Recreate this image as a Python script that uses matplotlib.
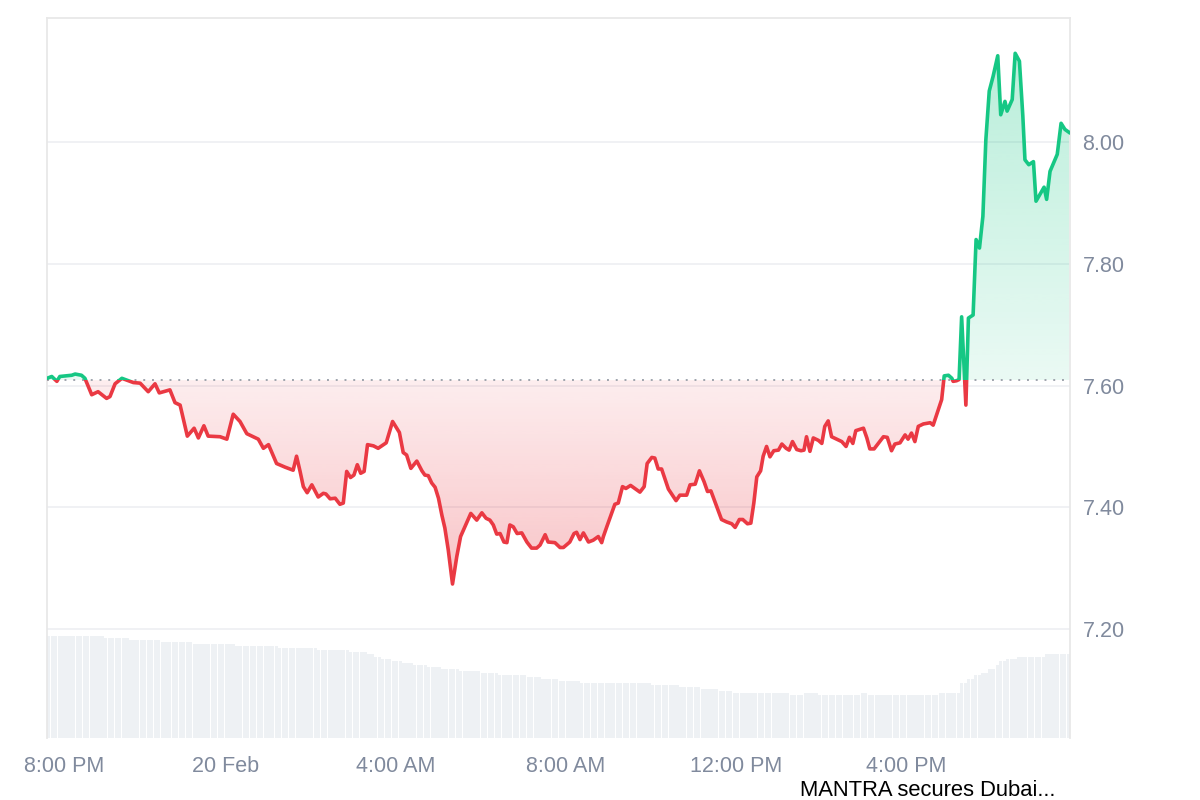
import numpy as np
import matplotlib.pyplot as plt
import matplotlib.colors as mcolors
from matplotlib.path import Path
from matplotlib.patches import Rectangle
from matplotlib.transforms import ScaledTranslation

plt.rcParams['font.family'] = ['Liberation Sans', 'DejaVu Sans']

# price, hours relative to midnight (20 Feb)
hours = [
    -4.21, -4.10, -3.98, -3.91, -3.63, -3.55, -3.40, -3.32, -3.16, -3.01,
    -2.81, -2.73, -2.61, -2.45, -2.18, -2.02, -1.83, -1.67, -1.57, -1.32,
    -1.20, -1.08, -0.91, -0.75, -0.65, -0.52, -0.42, -0.14, 0.02, 0.17,
    0.33, 0.49, 0.76, 0.88, 1.00, 1.19, 1.39, 1.58, 1.66, 1.74,
    1.82, 1.91, 2.02, 2.17, 2.29, 2.35, 2.45, 2.57, 2.68, 2.76,
    2.84, 2.93, 3.01, 3.09, 3.17, 3.25, 3.33, 3.47, 3.58, 3.77,
    3.92, 4.08, 4.17, 4.25, 4.35, 4.49, 4.61, 4.68, 4.76, 4.84,
    4.92, 5.00, 5.08, 5.15, 5.23, 5.33, 5.43, 5.52, 5.62, 5.76,
    5.90, 6.02, 6.12, 6.21, 6.29, 6.37, 6.45, 6.54, 6.61, 6.68,
    6.76, 6.85, 6.96, 7.08, 7.19, 7.31, 7.39, 7.51, 7.58, 7.74,
    7.86, 7.94, 8.09, 8.19, 8.25, 8.33, 8.41, 8.53, 8.64, 8.76,
    8.84, 8.88, 8.96, 9.15, 9.23, 9.33, 9.41, 9.52, 9.62, 9.74,
    9.84, 9.91, 10.02, 10.09, 10.17, 10.25, 10.41, 10.59, 10.68, 10.84,
    10.92, 11.04, 11.14, 11.25, 11.33, 11.41, 11.51, 11.66, 11.78, 11.90,
    11.98, 12.08, 12.16, 12.27, 12.35, 12.42, 12.49, 12.58, 12.64, 12.72,
    12.80, 12.89, 13.00, 13.08, 13.18, 13.25, 13.33, 13.43, 13.53, 13.60,
    13.66, 13.74, 13.82, 13.94, 14.02, 14.09, 14.17, 14.25, 14.37, 14.49,
    14.59, 14.67, 14.75, 14.82, 15.00, 15.08, 15.15, 15.25, 15.35, 15.47,
    15.56, 15.66, 15.74, 15.86, 15.98, 16.05, 16.13, 16.21, 16.29, 16.41,
    16.57, 16.64, 16.72, 16.84, 16.90, 17.00, 17.08, 17.11, 17.19, 17.25,
    17.31, 17.41, 17.47, 17.58, 17.65, 17.73, 17.81, 17.88, 17.96, 18.05,
    18.16, 18.23, 18.33, 18.38, 18.50, 18.57, 18.67, 18.75, 18.80, 18.89,
    19.00, 19.06, 19.25, 19.31, 19.39, 19.56, 19.65, 19.74, 19.84,
]
price = [
    7.612, 7.615, 7.607, 7.615, 7.617, 7.619, 7.617, 7.612, 7.585, 7.590,
    7.579, 7.582, 7.603, 7.612, 7.605, 7.604, 7.590, 7.603, 7.588, 7.593,
    7.572, 7.568, 7.517, 7.530, 7.514, 7.534, 7.517, 7.516, 7.512, 7.553,
    7.541, 7.521, 7.512, 7.497, 7.503, 7.472, 7.466, 7.461, 7.484, 7.460,
    7.434, 7.424, 7.437, 7.417, 7.423, 7.422, 7.414, 7.415, 7.405, 7.407,
    7.459, 7.449, 7.453, 7.470, 7.456, 7.459, 7.503, 7.501, 7.497, 7.506,
    7.541, 7.523, 7.490, 7.486, 7.464, 7.476, 7.460, 7.453, 7.452, 7.440,
    7.433, 7.415, 7.387, 7.366, 7.330, 7.274, 7.319, 7.352, 7.368, 7.390,
    7.379, 7.391, 7.382, 7.379, 7.371, 7.356, 7.357, 7.343, 7.342, 7.371,
    7.368, 7.357, 7.358, 7.343, 7.333, 7.333, 7.338, 7.355, 7.343, 7.342,
    7.334, 7.334, 7.343, 7.357, 7.359, 7.347, 7.358, 7.343, 7.346, 7.352,
    7.342, 7.352, 7.368, 7.405, 7.407, 7.434, 7.431, 7.436, 7.431, 7.425,
    7.434, 7.472, 7.482, 7.481, 7.463, 7.463, 7.430, 7.411, 7.420, 7.420,
    7.437, 7.438, 7.460, 7.442, 7.426, 7.427, 7.408, 7.380, 7.376, 7.373,
    7.367, 7.380, 7.380, 7.373, 7.374, 7.407, 7.450, 7.460, 7.484, 7.500,
    7.483, 7.493, 7.494, 7.504, 7.497, 7.494, 7.508, 7.495, 7.493, 7.494,
    7.516, 7.492, 7.514, 7.510, 7.505, 7.533, 7.542, 7.516, 7.512, 7.508,
    7.500, 7.515, 7.505, 7.526, 7.530, 7.514, 7.496, 7.496, 7.505, 7.516,
    7.515, 7.493, 7.504, 7.506, 7.519, 7.512, 7.522, 7.508, 7.533, 7.537,
    7.539, 7.535, 7.552, 7.577, 7.616, 7.617, 7.612, 7.607, 7.608, 7.610,
    7.713, 7.568, 7.711, 7.716, 7.840, 7.826, 7.878, 8.004, 8.084, 8.108,
    8.142, 8.045, 8.067, 8.051, 8.070, 8.146, 8.133, 8.043, 7.971, 7.963,
    7.968, 7.903, 7.926, 7.906, 7.952, 7.980, 8.031, 8.021, 8.016,
]
open_price = 7.609

# relative volume per 5-min bar, as level + number of bars at that level
vol_level = [102, 99.7, 97.7, 95.6, 93.6, 91.6, 89.6, 87.6, 85.6, 83.6,
             81.2, 79.5, 77.5, 75.5, 73.5, 71.5, 69.5, 67.4, 65.4, 63.4,
             61.4, 59.4, 57.4, 55.4, 53.4, 51.3, 49.3, 47.3, 45.3, 43.3,
             45.3, 43.3, 45.3, 43.3, 45.3,
             55.4, 59.4, 63.4, 65.4, 69.5, 73.5, 77.5, 79.5, 81.5, 83.6]
vol_run = [16, 7, 9, 9, 12, 12, 11, 9, 5, 2,
           2, 3, 3, 3, 4, 4, 5, 6, 5, 8,
           4, 5, 6, 20, 8, 6, 5, 4, 16, 4,
           4, 12, 2, 20, 6,
           2, 2, 2, 2, 2, 1, 2, 3, 8, 7]

tick_hours = [-4, 0, 4, 8, 12, 16]
tick_labels = ['8:00 PM', '20 Feb', '4:00 AM', '8:00 AM', '12:00 PM', '4:00 PM']
price_ticks = [7.20, 7.40, 7.60, 7.80, 8.00]
headline = 'MANTRA secures Dubai...'

RED = '#ea3943'
GREEN = '#16c784'
GREY = '#808a9d'

t0, t1 = -4.212, 19.86
ymin, ymax = 7.021, 8.204

fig = plt.figure(figsize=(12, 8), dpi=100)
rect = [47 / 1200, 1 - 738 / 800, 1023 / 1200, 720 / 800]
axv = fig.add_axes(rect, zorder=0)
ax = fig.add_axes(rect, zorder=1)
ax.set_facecolor('none')

# volume bars in the background
vol = np.repeat(vol_level, vol_run)
nb = len(vol)
dt = (t1 - t0) / nb
bx = t0 + dt * (np.arange(nb) + 0.5)
axv.bar(bx, vol, width=dt * 0.9, color='#eef1f4', linewidth=0)
axv.set_xlim(t0, t1)
axv.set_ylim(0, 720)
axv.axis('off')

t = np.array(hours)
p = np.array(price)


def gradient_fill(coll, color, lo, hi, a_lo, a_hi):
    path = Path.make_compound_path(*coll.get_paths())
    img = np.zeros((256, 1, 4))
    img[..., :3] = mcolors.to_rgb(color)
    img[:, 0, 3] = np.linspace(a_lo, a_hi, 256)
    im = ax.imshow(img, extent=[t0, t1, lo, hi], origin='lower',
                   aspect='auto', zorder=1, interpolation='bilinear')
    im.set_clip_path(path, ax.transData)


red_area = ax.fill_between(t, p, open_price, where=p < open_price,
                           interpolate=True, facecolor='none', edgecolor='none')
green_area = ax.fill_between(t, p, open_price, where=p > open_price,
                             interpolate=True, facecolor='none', edgecolor='none')
gradient_fill(red_area, RED, p.min(), open_price, 0.30, 0.09)
gradient_fill(green_area, GREEN, open_price, p.max(), 0.09, 0.30)

# line: green above the open price, red below
red_line, = ax.plot(t, p, color=RED, lw=2.6, zorder=4, solid_joinstyle='round')
red_line.set_clip_path(Rectangle((t0, ymin), t1 - t0, open_price - ymin,
                                 transform=ax.transData))
green_line, = ax.plot(t, p, color=GREEN, lw=2.6, zorder=4, solid_joinstyle='round')
green_line.set_clip_path(Rectangle((t0, open_price), t1 - t0, ymax - open_price,
                                   transform=ax.transData))

ax.axhline(open_price, color='#9fa4ad', lw=1.4, ls=(0, (1, 3.5)), zorder=3)

ax.set_xlim(t0, t1)
ax.set_ylim(ymin, ymax)
ax.set_yticks(price_ticks, [f'{v:.2f}' for v in price_ticks])
ax.set_xticks(tick_hours, tick_labels)
ax.yaxis.tick_right()
ax.grid(axis='y', color='#eff0f3', lw=1.3, zorder=0)
ax.set_axisbelow(True)
ax.tick_params(axis='y', length=0, pad=9, labelsize=15.5, labelcolor=GREY)
ax.tick_params(axis='x', length=0, pad=13, labelsize=15.5, labelcolor=GREY)

for side in ['top', 'left', 'right']:
    ax.spines[side].set_color('#e8e8e8')
    ax.spines[side].set_linewidth(1.3)
ax.spines['bottom'].set_visible(False)

first = ax.get_xticklabels()[0]
first.set_transform(first.get_transform() + ScaledTranslation(0.08, 0, fig.dpi_scale_trans))

fig.text(800 / 1200, 1 - 791 / 800, headline, fontsize=15.8, color='black',
         va='center', ha='left')

fig.savefig('out.png', dpi=100)
